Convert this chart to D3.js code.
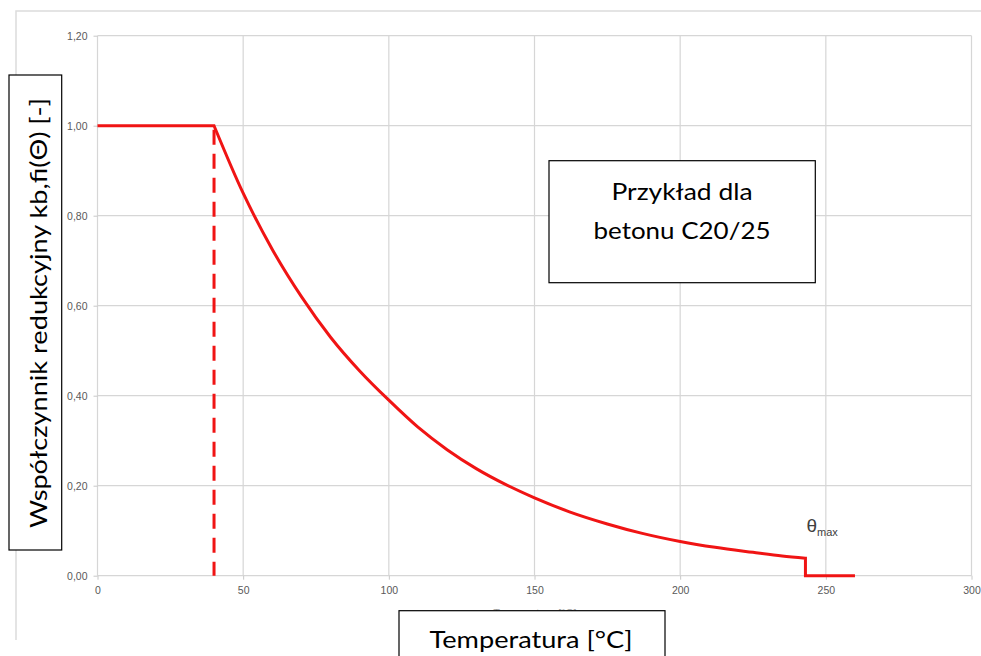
<!DOCTYPE html>
<html>
<head>
<meta charset="utf-8">
<script src="https://cdn.jsdelivr.net/npm/d3@7"></script>
<style>
  body { margin: 0; background: #fff; }
  svg { display: block; }
</style>
</head>
<body>
<div id="chart"></div>
<script>
// values
const xTicks = [0, 50, 100, 150, 200, 250, 300];
const yTicks = [0, 0.2, 0.4, 0.6, 0.8, 1.0, 1.2];

// flat part up to 40 °C
const flatPart = [[0, 1.0], [40, 1.0]];
// decay of kb,fi between 40 °C and theta max
const decayPart = [
    [40, 1.0], [50, 0.85], [60, 0.725], [70, 0.62], [80, 0.53], [90, 0.455],
    [100, 0.39], [110, 0.33], [120, 0.28], [130, 0.238], [140, 0.203],
    [150, 0.173], [162, 0.142], [175, 0.115], [187, 0.094], [200, 0.076],
    [212, 0.063], [225, 0.052], [235, 0.044], [243, 0.039]
];
// drop to zero at theta max and rest of the line
const tailPart = [[243, 0.039], [243, 0], [260, 0]];
const dashedAt = 40;

const width = 981;
const height = 656;

const svg = d3.select("#chart").append("svg")
    .attr("width", width)
    .attr("height", height);

const x = d3.scaleLinear().domain([0, 300]).range([97.5, 971.5]);
const y = d3.scaleLinear().domain([0, 1.2]).range([575.7, 35.7]);

const gridColor = "#d6d6d6";
const fmt = d => d3.format(".2f")(d).replace(".", ",");

// outer chart border (left and top only visible)
svg.append("path")
    .attr("d", "M16,640 L16,11 L981,11")
    .attr("fill", "none")
    .attr("stroke", "#dcdcdc")
    .attr("stroke-width", 1.5);

// grid
svg.append("g").selectAll("line")
    .data(xTicks)
    .enter().append("line")
    .attr("x1", d => x(d)).attr("x2", d => x(d))
    .attr("y1", y(0)).attr("y2", y(1.2))
    .attr("stroke", gridColor).attr("stroke-width", 1.2);

svg.append("g").selectAll("line")
    .data(yTicks)
    .enter().append("line")
    .attr("x1", x(0)).attr("x2", x(300))
    .attr("y1", d => y(d)).attr("y2", d => y(d))
    .attr("stroke", gridColor).attr("stroke-width", 1.2);

// axes
const xAxis = svg.append("g")
    .attr("transform", `translate(0,${y(0)})`)
    .call(d3.axisBottom(x).tickValues(xTicks).tickSizeInner(4).tickSizeOuter(0).tickPadding(7));
const yAxis = svg.append("g")
    .attr("transform", `translate(${x(0)},0)`)
    .call(d3.axisLeft(y).tickValues(yTicks).tickFormat(fmt).tickSizeInner(4).tickSizeOuter(0).tickPadding(6));

[xAxis, yAxis].forEach(a => {
    a.select(".domain").remove();
    a.selectAll(".tick line").attr("stroke", "#c8c8c8");
    a.selectAll(".tick text")
        .attr("fill", "#595959")
        .style("font-family", "'Liberation Sans', Arial, sans-serif")
        .style("font-size", "10.5px");
});

// dashed vertical at 40 °C
svg.append("line")
    .attr("x1", x(dashedAt)).attr("x2", x(dashedAt))
    .attr("y1", y(1.0) + 4).attr("y2", y(0))
    .attr("stroke", "#f01414")
    .attr("stroke-width", 3)
    .attr("stroke-dasharray", "15,9");

// main curve: linear flat + smooth decay + linear step
const lin = d3.line().x(d => x(d[0])).y(d => y(d[1]));
const smooth = d3.line().x(d => x(d[0])).y(d => y(d[1])).curve(d3.curveMonotoneX);
const pathD = lin(flatPart) +
    smooth(decayPart).replace(/^M/, "L") +
    lin(tailPart).replace(/^M/, "L");

svg.append("path")
    .attr("d", pathD)
    .attr("fill", "none")
    .attr("stroke", "#f01414")
    .attr("stroke-width", 3)
    .attr("stroke-linejoin", "miter");

// theta max label
const th = svg.append("text")
    .attr("x", x(243) + 1)
    .attr("y", 532)
    .attr("fill", "#404040")
    .style("font-family", "'Liberation Sans', Arial, sans-serif")
    .style("font-size", "19px");
th.append("tspan").text("θ");
th.append("tspan").attr("dy", 4).style("font-size", "11px").text("max");

// faint original x title, mostly hidden by the box
svg.append("text")
    .attr("x", 535).attr("y", 617)
    .attr("text-anchor", "middle")
    .attr("fill", "#a0a0a0")
    .style("font-family", "'Liberation Sans', Arial, sans-serif")
    .style("font-size", "11px")
    .text("Temperatura [°C]");

const labelFont = "Lato, 'Open Sans', sans-serif";

// annotation box
svg.append("rect")
    .attr("x", 549).attr("y", 160.7)
    .attr("width", 266.3).attr("height", 122)
    .attr("fill", "#fff").attr("stroke", "#000").attr("stroke-width", 1.2);

svg.append("text")
    .attr("x", 682).attr("y", 199.5)
    .attr("text-anchor", "middle")
    .attr("textLength", 141).attr("lengthAdjust", "spacingAndGlyphs")
    .style("font-family", labelFont).style("font-size", "24px")
    .text("Przykład dla");
svg.append("text")
    .attr("x", 682).attr("y", 238.5)
    .attr("text-anchor", "middle")
    .attr("textLength", 177).attr("lengthAdjust", "spacingAndGlyphs")
    .style("font-family", labelFont).style("font-size", "24px")
    .text("betonu C20/25");

// y title box
svg.append("rect")
    .attr("x", 9).attr("y", 75)
    .attr("width", 52.7).attr("height", 475)
    .attr("fill", "#fff").attr("stroke", "#000").attr("stroke-width", 1.2);

svg.append("text")
    .attr("transform", "translate(47,313) rotate(-90)")
    .attr("text-anchor", "middle")
    .attr("textLength", 430).attr("lengthAdjust", "spacingAndGlyphs")
    .style("font-family", labelFont).style("font-size", "24px")
    .text("Współczynnik redukcyjny kb,fi(Θ) [-]");

// x title box
svg.append("rect")
    .attr("x", 399).attr("y", 610.7)
    .attr("width", 266).attr("height", 60)
    .attr("fill", "#fff").attr("stroke", "#000").attr("stroke-width", 1.2);

svg.append("text")
    .attr("x", 531).attr("y", 648)
    .attr("text-anchor", "middle")
    .attr("textLength", 203).attr("lengthAdjust", "spacingAndGlyphs")
    .style("font-family", labelFont).style("font-size", "24px")
    .text("Temperatura [°C]");
</script>
</body>
</html>
